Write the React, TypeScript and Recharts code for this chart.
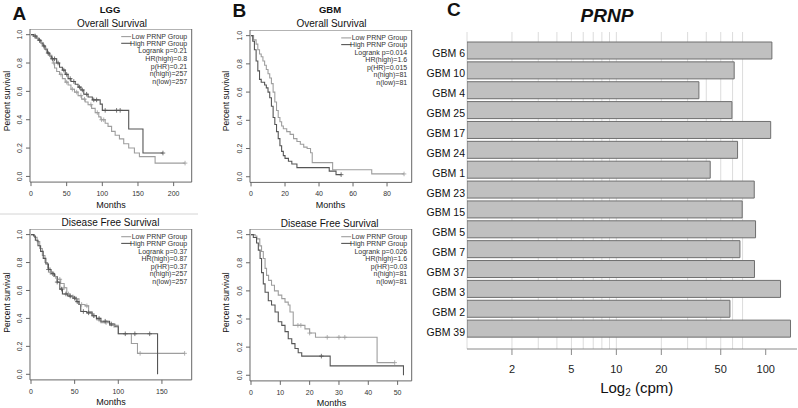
import React from "react";
import {
  Bar,
  BarChart,
  CartesianGrid,
  ComposedChart,
  Line,
  ReferenceArea,
  Scatter,
  XAxis,
  YAxis,
} from "recharts";

type Pt = [number, number];

const FONT = '"Liberation Sans", Arial, Helvetica, sans-serif';
const LOW_COLOR = "#9e9e9e";
const HIGH_COLOR = "#555555";
const BOX_COLOR = "#666666";

// ---- A: LGG overall survival (months, survival) ----
const lggOsLow: Pt[] = [
  [0, 1], [3, 0.99], [7, 0.975], [10, 0.965], [13, 0.945], [16, 0.925], [19, 0.9],
  [22, 0.875], [25, 0.855], [28, 0.83], [31, 0.8], [33, 0.765], [36, 0.74], [40, 0.72],
  [44, 0.69], [48, 0.665], [52, 0.645], [56, 0.615], [61, 0.595], [66, 0.57], [71, 0.545],
  [76, 0.525], [80, 0.506], [85, 0.48], [90, 0.45], [95, 0.42], [98, 0.4], [104, 0.375],
  [108, 0.353], [113, 0.318], [118, 0.29], [124, 0.265], [130, 0.23], [137, 0.2],
  [145, 0.165], [152, 0.14], [174, 0.094], [216, 0.094],
];
const lggOsHigh: Pt[] = [
  [0, 1], [4, 0.99], [8, 0.975], [11, 0.96], [14, 0.94], [17, 0.92], [20, 0.895],
  [23, 0.87], [26, 0.85], [29, 0.83], [36, 0.8], [40, 0.77], [44, 0.75], [48, 0.72],
  [52, 0.69], [56, 0.67], [62, 0.65], [66, 0.63], [70, 0.61], [74, 0.58], [80, 0.56],
  [86, 0.54], [97, 0.51], [100, 0.466], [137, 0.335], [157, 0.165], [185, 0.165],
];
const lggOsLowCensor = [5, 9, 15, 21, 27, 32, 42, 50, 58, 64, 70, 75, 84, 93, 99, 102, 216];
const lggOsHighCensor = [6, 12, 18, 24, 30, 33, 38, 46, 50, 55, 60, 68, 72, 78, 88, 92, 104, 120, 125, 185];
const lggOsStats = ["Logrank p=0.21", "HR(high)=0.8", "p(HR)=0.21", "n(high)=257", "n(low)=257"];

// ---- A: LGG disease free survival ----
const lggDfsLow: Pt[] = [
  [0, 1], [4, 0.98], [7, 0.95], [10, 0.9], [13, 0.85], [16, 0.8], [19, 0.76], [22, 0.73],
  [26, 0.7], [30, 0.68], [34, 0.65], [38, 0.62], [41, 0.575], [44, 0.555], [50, 0.54],
  [55, 0.5], [62, 0.49], [66, 0.45], [70, 0.42], [75, 0.39], [80, 0.37], [90, 0.35],
  [100, 0.29], [115, 0.22], [122, 0.15], [176, 0.15],
];
const lggDfsHigh: Pt[] = [
  [0, 1], [3, 0.99], [5, 0.96], [8, 0.92], [11, 0.88], [14, 0.83], [17, 0.79], [20, 0.75],
  [23, 0.72], [27, 0.7], [30, 0.66], [33, 0.61], [36, 0.575], [42, 0.56], [48, 0.545],
  [52, 0.52], [55, 0.5], [57, 0.45], [64, 0.44], [70, 0.42], [75, 0.4], [80, 0.38],
  [90, 0.36], [96, 0.34], [100, 0.29], [145, 0],
];
const lggDfsLowCensor = [22, 28, 33, 38, 43, 48, 52, 58, 64, 72, 78, 86, 95, 125, 176];
const lggDfsHighCensor = [20, 25, 30, 35, 40, 45, 50, 53, 60, 66, 72, 78, 85, 92, 108, 119, 136];
const lggDfsStats = ["Logrank p=0.37", "HR(high)=0.87", "p(HR)=0.37", "n(high)=257", "n(low)=257"];

// ---- B: GBM overall survival ----
const gbmOsLow: Pt[] = [
  [0, 1], [1.5, 0.97], [3, 0.94], [4, 0.9], [5, 0.87], [6, 0.85], [7, 0.82], [8, 0.79],
  [9, 0.76], [10, 0.73], [11, 0.7], [12, 0.66], [13, 0.6], [14, 0.53], [15, 0.47],
  [16, 0.42], [17, 0.39], [18, 0.36], [19, 0.34], [21, 0.32], [23, 0.3], [25, 0.27],
  [27, 0.25], [29, 0.23], [31, 0.21], [33, 0.2], [35, 0.17], [36, 0.1], [48, 0.05],
  [71, 0.02], [90, 0.02],
];
const gbmOsHigh: Pt[] = [
  [0, 1], [1, 0.96], [2, 0.9], [3, 0.82], [4, 0.75], [5, 0.69], [6, 0.67], [8, 0.65],
  [9, 0.63], [10, 0.6], [11, 0.56], [12, 0.5], [13, 0.42], [14, 0.37], [15, 0.32],
  [16, 0.27], [17, 0.22], [18, 0.18], [19, 0.15], [20, 0.13], [22, 0.11], [24, 0.09],
  [27, 0.065], [46, 0.04], [50, 0.015], [53, 0.015],
];
const gbmOsLowCensor = [90];
const gbmOsHighCensor = [53];
const gbmOsStats = ["Logrank p=0.014", "HR(high)=1.6", "p(HR)=0.015", "n(high)=81", "n(low)=81"];

// ---- B: GBM disease free survival ----
const gbmDfsLow: Pt[] = [
  [0, 1], [1.4, 0.99], [2, 0.97], [3, 0.92], [3.6, 0.88], [4.2, 0.83], [4.8, 0.76],
  [5.3, 0.71], [6, 0.675], [7, 0.64], [8, 0.6], [9.3, 0.57], [10.5, 0.545], [11.6, 0.52],
  [12.7, 0.5], [13.3, 0.45], [14.4, 0.355], [18.4, 0.33], [20, 0.3], [22, 0.27],
  [43, 0.09], [49, 0.09],
];
const gbmDfsHigh: Pt[] = [
  [0, 1], [0.8, 0.98], [1.9, 0.94], [2.5, 0.89], [3.1, 0.83], [3.6, 0.73], [4.2, 0.65],
  [4.8, 0.59], [5.9, 0.53], [7, 0.5], [8.2, 0.45], [9.3, 0.38], [10.5, 0.355],
  [11.6, 0.31], [12.7, 0.26], [13.9, 0.225], [15, 0.19], [16.1, 0.16], [17.3, 0.136],
  [27, 0.067], [52, 0],
];
const gbmDfsLowCensor = [16, 17, 20, 26, 30, 32, 49];
const gbmDfsHighCensor = [24];
const gbmDfsStats = ["Logrank p=0.026", "HR(high)=1.6", "p(HR)=0.03", "n(high)=81", "n(low)=81"];

const survTicks = [0, 0.2, 0.4, 0.6, 0.8, 1];

// ---- C: PRNP expression per sample ----
const samples = [
  "GBM 6", "GBM 10", "GBM 4", "GBM 25", "GBM 17", "GBM 24", "GBM 1", "GBM 23",
  "GBM 15", "GBM 5", "GBM 7", "GBM 37", "GBM 3", "GBM 2", "GBM 39",
];
const cpm = [110, 61.5, 35.7, 59.4, 108, 64.8, 42.5, 83.8, 69.6, 85.5, 67.2, 84.1, 125.7, 57.6, 146.6];
const cpmTicks = [2, 5, 10, 20, 50, 100];
const cpmGrid = [1, 2, 3, 4, 5, 6, 7, 8, 9, 10, 20, 30, 40, 50, 60, 70];

type Box = { x: number; y: number; w: number; h: number };

function stepAt(pts: Pt[], t: number) {
  let s = pts[0][1];
  for (const [pt, ps] of pts) if (pt <= t) s = ps;
  return s;
}

const cross = (color: string) => (p: any) => (
  <path
    d={`M${p.cx - 2.3},${p.cy}h4.6M${p.cx},${p.cy - 2.3}v4.6`}
    stroke={color}
    strokeWidth={0.8}
    fill="none"
  />
);

function RotTick(props: any) {
  const { x, y, payload } = props;
  return (
    <text
      x={x}
      y={y}
      transform={`rotate(-90 ${x} ${y})`}
      textAnchor="middle"
      fontSize={7}
      fill="#333"
      fontFamily={FONT}
    >
      {Number(payload.value).toFixed(1)}
    </text>
  );
}

function KMPlot(props: {
  box: Box;
  xDomain: [number, number];
  xTicks: number[];
  low: Pt[];
  high: Pt[];
  lowCensor: number[];
  highCensor: number[];
}) {
  const { box, xDomain, xTicks, low, high, lowCensor, highCensor } = props;
  const LY = 30;
  const HX = 20;
  const rows = (pts: Pt[]) => pts.map(([t, s]) => ({ t, s }));
  const marks = (pts: Pt[], times: number[]) => times.map((t) => ({ t, s: stepAt(pts, t) }));
  return (
    <div style={{ position: "absolute", left: box.x - LY, top: box.y }}>
      <ComposedChart
        width={LY + box.w + 2}
        height={box.h + HX + 2}
        margin={{ top: 0, right: 2, bottom: 2, left: 0 }}
      >
        <XAxis
          type="number"
          dataKey="t"
          domain={xDomain}
          ticks={xTicks}
          interval={0}
          allowDataOverflow
          axisLine={false}
          tickLine={{ stroke: BOX_COLOR }}
          tickSize={4}
          tickMargin={5}
          height={HX}
          tick={{ fontSize: 7, fill: "#333", fontFamily: FONT }}
        />
        <YAxis
          type="number"
          dataKey="s"
          domain={[-0.04, 1.04]}
          ticks={survTicks}
          interval={0}
          allowDataOverflow
          width={LY}
          axisLine={false}
          tickLine={{ stroke: BOX_COLOR }}
          tickSize={4}
          tickMargin={4}
          tick={<RotTick />}
        />
        <ReferenceArea
          x1={xDomain[0]}
          x2={xDomain[1]}
          y1={-0.04}
          y2={1.04}
          fill="none"
          stroke={BOX_COLOR}
          strokeWidth={1}
          ifOverflow="visible"
        />
        <Line data={rows(low)} dataKey="s" type="stepAfter" stroke={LOW_COLOR} strokeWidth={1.1} dot={false} isAnimationActive={false} />
        <Line data={rows(high)} dataKey="s" type="stepAfter" stroke={HIGH_COLOR} strokeWidth={1.1} dot={false} isAnimationActive={false} />
        <Scatter data={marks(low, lowCensor)} shape={cross(LOW_COLOR)} isAnimationActive={false} />
        <Scatter data={marks(high, highCensor)} shape={cross(HIGH_COLOR)} isAnimationActive={false} />
      </ComposedChart>
    </div>
  );
}

function KMLegend({ box, stats }: { box: Box; stats: string[] }) {
  const right = box.x + box.w - 4.5;
  const y0 = box.y + 8;
  const rowsY = [0, 6.7, 14.4, 22.1, 29.7, 37.1, 44.7].map((d) => y0 + d);
  const labels = ["Low PRNP Group", "High PRNP Group", ...stats];
  return (
    <g>
      <line x1={right - 66} x2={right - 56} y1={rowsY[0]} y2={rowsY[0]} stroke={LOW_COLOR} strokeWidth={1.1} />
      <line x1={right - 66} x2={right - 56} y1={rowsY[1]} y2={rowsY[1]} stroke={HIGH_COLOR} strokeWidth={1.1} />
      {labels.map((s, i) => (
        <text
          key={s}
          x={right}
          y={rowsY[i] + 2.4}
          textAnchor="end"
          fontFamily={FONT}
          fontSize={7}
          fill="#333333"
        >
          {s}
        </text>
      ))}
    </g>
  );
}

function CatTick(props: any) {
  const { x, y, payload } = props;
  return (
    <text x={x} y={y} dy={6.5} textAnchor="end" fontSize={10.5} fill="#111" fontFamily={FONT}>
      {payload.value}
    </text>
  );
}

const boxAOs: Box = { x: 30, y: 28.6, w: 161.7, h: 153.1 };
const boxADfs: Box = { x: 30, y: 228.7, w: 161.7, h: 150.9 };
const boxBOs: Box = { x: 250, y: 29.9, w: 161.7, h: 152.4 };
const boxBDfs: Box = { x: 250, y: 228.7, w: 161.7, h: 151.9 };

export default function App() {
  const barRows = samples.map((name, i) => ({ name, cpm: cpm[i] }));
  const txt = { fontFamily: FONT, fill: "#111" };
  return (
    <div style={{ position: "absolute", left: 0, top: 0, width: 798, height: 408, background: "#fff", overflow: "hidden" }}>
      <KMPlot box={boxAOs} xDomain={[-1.4, 225.3]} xTicks={[0, 50, 100, 150, 200]} low={lggOsLow} high={lggOsHigh} lowCensor={lggOsLowCensor} highCensor={lggOsHighCensor} />
      <KMPlot box={boxADfs} xDomain={[-1.15, 184.1]} xTicks={[0, 50, 100, 150]} low={lggDfsLow} high={lggDfsHigh} lowCensor={lggDfsLowCensor} highCensor={lggDfsHighCensor} />
      <KMPlot box={boxBOs} xDomain={[-0.6, 94.5]} xTicks={[0, 20, 40, 60, 80]} low={gbmOsLow} high={gbmOsHigh} lowCensor={gbmOsLowCensor} highCensor={gbmOsHighCensor} />
      <KMPlot box={boxBDfs} xDomain={[-0.34, 54.8]} xTicks={[0, 10, 20, 30, 40, 50]} low={gbmDfsLow} high={gbmDfsHigh} lowCensor={gbmDfsLowCensor} highCensor={gbmDfsHighCensor} />

      <div style={{ position: "absolute", left: 400, top: 0 }}>
        <BarChart
          width={398}
          height={408}
          data={barRows}
          layout="vertical"
          margin={{ top: 32, right: 1, bottom: 29, left: 7 }}
          barSize={17}
        >
          <CartesianGrid horizontal={false} verticalValues={cpmGrid} stroke="#dcdcdc" />
          <XAxis
            type="number"
            dataKey="cpm"
            scale="log"
            domain={[1, 162]}
            ticks={cpmTicks}
            interval={0}
            allowDataOverflow
            height={30}
            stroke="#8a8a8a"
            tickSize={6}
            tickMargin={10}
            tick={{ fontSize: 11, fill: "#222", fontFamily: FONT }}
          />
          <YAxis
            type="category"
            dataKey="name"
            width={60}
            interval={0}
            axisLine={false}
            tickLine={false}
            tickSize={0}
            tickMargin={2}
            padding={{ top: 9, bottom: 10 }}
            tick={<CatTick />}
          />
          <Bar dataKey="cpm" fill="#c0c0c0" stroke="#6e6e6e" strokeWidth={1} isAnimationActive={false} />
        </BarChart>
      </div>

      <svg width={798} height={408} style={{ position: "absolute", left: 0, top: 0, pointerEvents: "none" }}>
        <line x1={0} x2={198} y1={214} y2={214} stroke="#d4d4d4" strokeWidth={1} />

        <text x={12.5} y={19.5} fontSize={19} fontWeight="bold" {...txt}>A</text>
        <text x={110} y={13.3} fontSize={9.5} fontWeight="bold" textAnchor="middle" {...txt}>LGG</text>
        <text x={112} y={26.5} fontSize={10} textAnchor="middle" {...txt}>Overall Survival</text>
        <text x={110.5} y={225.5} fontSize={10} textAnchor="middle" {...txt}>Disease Free Survival</text>
        <text x={111} y={208} fontSize={9} textAnchor="middle" {...txt}>Months</text>
        <text x={111} y={404.5} fontSize={9} textAnchor="middle" {...txt}>Months</text>
        <text x={9.5} y={101} fontSize={8.5} textAnchor="middle" transform="rotate(-90 9.5 101)" {...txt}>Percent survival</text>
        <text x={9.5} y={302.5} fontSize={8.5} textAnchor="middle" transform="rotate(-90 9.5 302.5)" {...txt}>Percent survival</text>

        <text x={232.5} y={16.5} fontSize={19} fontWeight="bold" {...txt}>B</text>
        <text x={330} y={13.3} fontSize={9.5} fontWeight="bold" textAnchor="middle" {...txt}>GBM</text>
        <text x={331.5} y={26.7} fontSize={10} textAnchor="middle" {...txt}>Overall Survival</text>
        <text x={329.7} y={226.7} fontSize={10} textAnchor="middle" {...txt}>Disease Free Survival</text>
        <text x={330.5} y={208} fontSize={9} textAnchor="middle" {...txt}>Months</text>
        <text x={331.5} y={406} fontSize={9} textAnchor="middle" {...txt}>Months</text>
        <text x={228.5} y={101} fontSize={8.5} textAnchor="middle" transform="rotate(-90 228.5 101)" {...txt}>Percent survival</text>
        <text x={228.5} y={302.5} fontSize={8.5} textAnchor="middle" transform="rotate(-90 228.5 302.5)" {...txt}>Percent survival</text>

        <KMLegend box={boxAOs} stats={lggOsStats} />
        <KMLegend box={boxADfs} stats={lggDfsStats} />
        <KMLegend box={boxBOs} stats={gbmOsStats} />
        <KMLegend box={boxBDfs} stats={gbmDfsStats} />

        <text x={447} y={15.5} fontSize={19} fontWeight="bold" {...txt}>C</text>
        <text x={607} y={21.5} fontSize={19} fontWeight="bold" fontStyle="italic" textAnchor="middle" {...txt}>PRNP</text>
        <text x={636.7} y={392.5} fontSize={15} textAnchor="middle" {...txt}>
          Log<tspan fontSize={10} dy={3.5}>2</tspan>
          <tspan dy={-3.5}> (cpm)</tspan>
        </text>
      </svg>
    </div>
  );
}
